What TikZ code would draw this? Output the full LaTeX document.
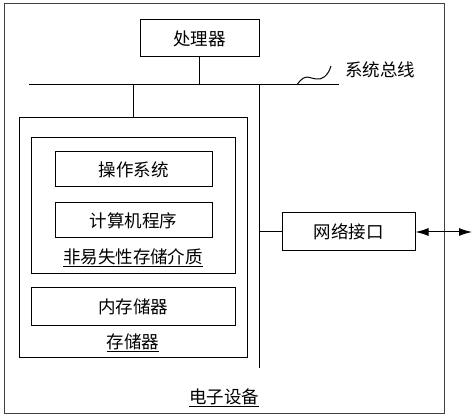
\documentclass[tikz,border=0pt]{standalone}
\usepackage{fontspec}
\setmainfont{Noto Sans CJK SC}
\usetikzlibrary{arrows.meta}

\begin{document}
\begin{tikzpicture}[x=1pt, y=-1pt, line width=1pt,
		box/.style={draw, inner sep=0pt, font=\fontsize{17.5}{20}\selectfont},
		tag/.style={inner sep=0pt, font=\fontsize{17.5}{20}\selectfont}]
			%%%%% START %%%%%
			\useasboundingbox (0, 0) rectangle (474, 419);
			
			\draw[color=black!75] (4, 4) rectangle (444, 414);
			\node[tag] (device) at (224, 398) {\underline{电子设备}};
			
			\node[box, minimum width=119, minimum height=37] (cpu) at (199.5, 38.5) {处理器};
			
			\coordinate (busL) at (29, 85);
			\coordinate (busR) at (339, 85);
			\draw (busL) -- (busR);
			\draw (cpu) -- (cpu |- busL);
			
			\draw (297, 85) .. controls (305, 72) and (311, 79) .. (316, 79) .. controls (322, 80) and (328, 76) .. (331, 66);
			\node[tag] (busname) at (380, 70) {系统总线};
			
			\node[box, minimum width=228, minimum height=240] (memory) at (133, 238) {};
			\node[tag] (memname) at (133, 343) {\underline{存储器}};
			\draw (memory.north) -- (memory.north |- busL);
			
			\node[box, minimum width=204, minimum height=136] (nvm) at (133, 206) {};
			\node[tag] (nvmname) at (133, 258) {\underline{非易失性存储介质}};
			\node[box, minimum width=157, minimum height=35] (os) at (133.5, 169.5) {操作系统};
			\node[box, minimum width=157, minimum height=35] (prog) at (133.5, 220.5) {计算机程序};
			
			\node[box, minimum width=204, minimum height=38] (ram) at (133, 307) {内存储器};
			
			\coordinate (trunk) at (259, 368);
			\draw (trunk |- busL) -- (trunk);
			
			\node[box, minimum width=133, minimum height=38] (net) at (348.5, 232) {网络接口};
			\draw (net.west) -- (net.west -| trunk);
			\coordinate (outside) at (472, 232);
			\draw[{Latex[length=13pt, width=8pt]}-{Latex[length=13pt, width=8pt]}] (net.east) -- (outside);
			%%%%% END %%%%%
\end{tikzpicture}
\end{document}
